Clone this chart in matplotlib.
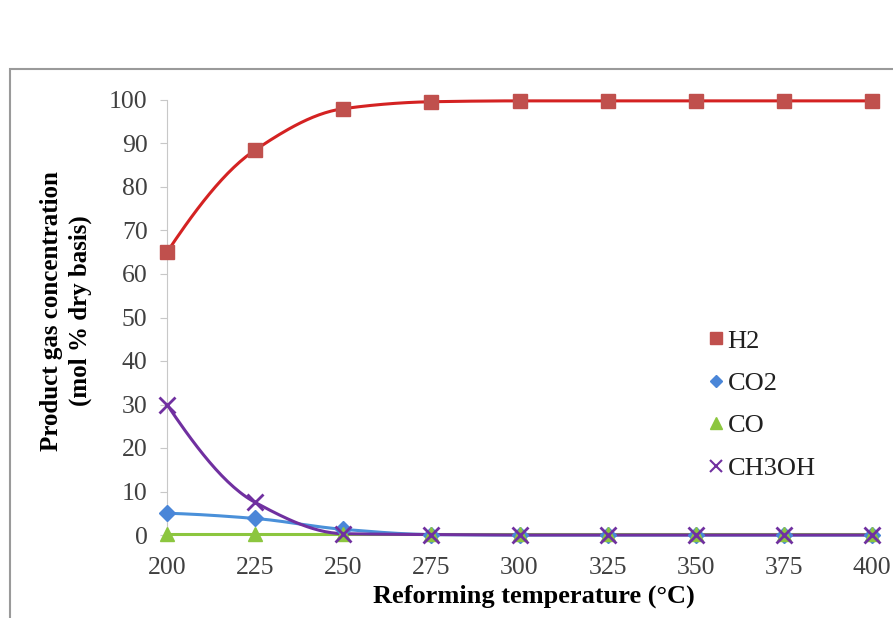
import numpy as np
import matplotlib.pyplot as plt
from matplotlib.patches import Rectangle
from matplotlib.lines import Line2D

plt.rcParams['font.family'] = ['Liberation Serif', 'DejaVu Serif']

temps = [200, 225, 250, 275, 300, 325, 350, 375, 400]
h2 = [65.0, 88.5, 98.0, 99.6, 99.8, 99.8, 99.8, 99.8, 99.8]
co2 = [5.0, 3.8, 1.3, 0.1, 0.0, 0.0, 0.0, 0.0, 0.0]
co = [0.3, 0.3, 0.3, 0.3, 0.3, 0.3, 0.3, 0.3, 0.3]
ch3oh = [30.0, 7.5, 0.3, 0.1, 0.0, 0.0, 0.0, 0.0, 0.0]

names = ['H2', 'CO2', 'CO', 'CH3OH']
line_cols = ['#d42222', '#4a90d9', '#8cc63f', '#7030a0']
mark_cols = ['#c0504d', '#4a86d8', '#8cc63f', '#7030a0']
markers = ['s', 'D', '^', 'x']
msizes = [10.5, 8, 10, 11]


def smooth(x, y, n=30):
    # monotone cubic (pchip) so the curves look like Excel's smoothed lines
    x = np.asarray(x, float)
    y = np.asarray(y, float)
    h = np.diff(x)
    d = np.diff(y) / h
    m = np.zeros_like(y)
    for i in range(1, len(y) - 1):
        if d[i - 1] * d[i] > 0:
            w1 = 2 * h[i] + h[i - 1]
            w2 = h[i] + 2 * h[i - 1]
            m[i] = (w1 + w2) / (w1 / d[i - 1] + w2 / d[i])
    for i, j, k in ((0, 0, 1), (-1, -1, -2)):
        e = ((2 * h[j] + h[k]) * d[j] - h[j] * d[k]) / (h[j] + h[k])
        if np.sign(e) != np.sign(d[j]):
            e = 0.0
        elif np.sign(d[j]) != np.sign(d[k]) and abs(e) > abs(3 * d[j]):
            e = 3 * d[j]
        m[i] = e
    xs, ys = [], []
    t = np.linspace(0, 1, n)
    for i in range(len(x) - 1):
        h00 = 2 * t ** 3 - 3 * t ** 2 + 1
        h10 = t ** 3 - 2 * t ** 2 + t
        h01 = -2 * t ** 3 + 3 * t ** 2
        h11 = t ** 3 - t ** 2
        xs.extend(x[i] + t * h[i])
        ys.extend(h00 * y[i] + h10 * h[i] * m[i] + h01 * y[i + 1] + h11 * h[i] * m[i + 1])
    return np.array(xs), np.array(ys)


fig = plt.figure(figsize=(8.93, 6.18), dpi=100)
fig.patches.append(Rectangle((10 / 893, -0.1), 1.2, 1 - 69 / 618 + 0.1,
                             transform=fig.transFigure, fill=False,
                             edgecolor='#9a9a9a', linewidth=1.5))

ax = fig.add_axes([167 / 893, 1 - 535 / 618, (872 - 167) / 893, 435 / 618])

for vals, name, lc, mc, mk, ms in zip([h2, co2, co, ch3oh], names, line_cols,
                                      mark_cols, markers, msizes):
    sx, sy = smooth(temps, vals)
    ax.plot(sx, sy, color=lc, lw=2.2, clip_on=False, zorder=2)
    ax.plot(temps, vals, ls='none', marker=mk, ms=ms, color=mc,
            markeredgecolor=mc, mew=2 if mk == 'x' else 1,
            clip_on=False, zorder=3)

ax.set_xlim(200, 400)
ax.set_ylim(0, 100)
ax.set_xticks(temps)
ax.set_yticks(range(0, 101, 10))
for s in ['top', 'right', 'bottom']:
    ax.spines[s].set_visible(False)
ax.spines['left'].set_color('#c8c8c8')
ax.tick_params(axis='y', length=5, color='#c8c8c8', labelsize=18.5,
               labelcolor='#404040', pad=9)
ax.tick_params(axis='x', length=0, labelsize=18.5, labelcolor='#404040', pad=16)

ax.set_xlabel('Reforming temperature (°C)', fontsize=19, fontweight='bold')
ax.xaxis.set_label_coords(0.521, -0.113)
ax.set_ylabel('Product gas concentration\n(mol % dry basis)', fontsize=18,
              fontweight='bold', linespacing=1.3)
ax.yaxis.set_label_coords(-0.106, 0.515)

handles = [Line2D([], [], ls='none', marker=mk, color=mc, ms=ms * 0.8,
                  mew=1.5 if mk == 'x' else 1)
           for mk, mc, ms in zip(markers, mark_cols, msizes)]
ax.legend(handles, names, loc='center left', bbox_to_anchor=(0.752, 0.300),
          frameon=False, fontsize=19, handlelength=0.6, handletextpad=0.15,
          labelspacing=0.72, labelcolor='#202020', borderaxespad=0)

fig.savefig('out.png', dpi=100)
